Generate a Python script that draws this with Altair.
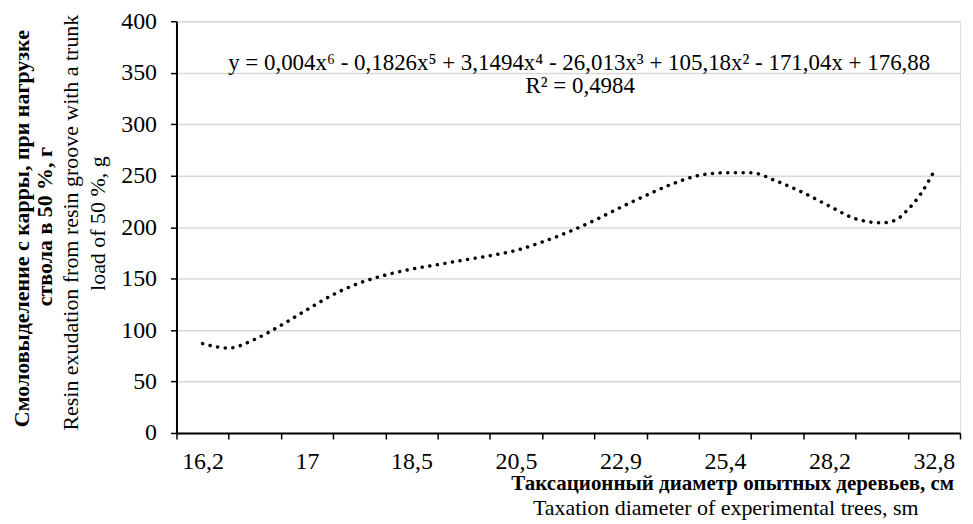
import altair as alt
import pandas as pd

# ---- data ----
curve_x = [1, 1.5, 2, 2.5, 3, 3.5, 4, 4.5, 5, 5.5, 6, 6.5, 7, 7.5, 8, 8.5, 9, 9.5,
           10, 10.5, 11, 11.5, 12, 12.5, 13, 13.5, 14, 14.25, 14.5, 14.75, 15]
curve_y = [86.8, 82.5, 91.0, 104.6, 119.8, 134.4, 145.6, 153.4, 159.2, 163.5, 168.0,
           172.2, 177.4, 185.5, 195.2, 206.5, 219.1, 231.1, 242.1, 250.2, 252.8, 252.8,
           244.4, 233.4, 220.4, 208.1, 204.2, 206.5, 216.9, 232.4, 254.0]

tick_positions = [1, 3, 5, 7, 9, 11, 13, 15]
tick_labels = ["16,2", "17", "18,5", "20,5", "22,9", "25,4", "28,2", "32,8"]
y_ticks = [0, 50, 100, 150, 200, 250, 300, 350, 400]

equation = "y = 0,004x⁶ - 0,1826x⁵ + 3,1494x⁴ - 26,013x³ + 105,18x² - 171,04x + 176,88"
r2_text = "R² = 0,4984"
y_title_ru = ["Смоловыделение с карры, при нагрузке", "ствола в 50 %, г"]
y_title_en = ["Resin exudation from resin groove with a trunk", "load of 50 %, g"]
x_title_ru = "Таксационный диаметр опытных деревьев, см"
x_title_en = "Taxation diameter of experimental trees, sm"

FONT = "Liberation Serif"
W, H = 786, 413

df = pd.DataFrame({"c": curve_x, "v": curve_y})

label_expr = "''"
for p, l in reversed(list(zip(tick_positions, tick_labels))):
    label_expr = f"datum.value == {p} ? '{l}' : ({label_expr})"

x_values = [0.5 + 0.5 * i for i in range(31)]

line = alt.Chart(df).mark_line(
    color="black", strokeWidth=3.5, strokeDash=[0.1, 7.6], strokeCap="round",
    interpolate="monotone"
).encode(
    x=alt.X("c:Q", scale=alt.Scale(domain=[0.5, 15.5], nice=False, zero=False),
            axis=alt.Axis(values=x_values, labelExpr=label_expr, grid=False,
                          domainColor="black", domainWidth=2, tickColor="black",
                          tickWidth=1.5, tickSize=6,
                          tickOpacity={"condition": {"test": "datum.value % 1 == 0", "value": 0}, "value": 1},
                          labelFont=FONT, labelFontSize=24, labelColor="black",
                          labelPadding=11, labelOverlap=False, labelFlush=False,
                          title=None)),
    y=alt.Y("v:Q", scale=alt.Scale(domain=[0, 400], nice=False),
            axis=alt.Axis(values=y_ticks, grid=True, gridColor="#d9d9d9", gridWidth=1.5,
                          domainColor="black", domainWidth=2, tickColor="black",
                          tickWidth=1.5, tickSize=6, labelFont=FONT, labelFontSize=24,
                          labelColor="black", labelPadding=14, title=None)),
)


def txt(s, x, y, size, bold=False, angle=0, align="center", baseline="alphabetic"):
    kw = dict(text=s, font=FONT, fontSize=size, color="black", align=align,
              baseline=baseline, fontWeight="bold" if bold else "normal")
    if angle:
        kw["angle"] = angle
    return alt.Chart(pd.DataFrame({"k": [0]})).mark_text(**kw).encode(
        x=alt.value(x), y=alt.value(y))


texts = [
    txt(equation, 404, 48.5, 23),
    txt(r2_text, 405, 71.5, 23),
    txt(y_title_ru[0], -148, 208, 22, bold=True, angle=270),
    txt(y_title_ru[1], -125, 206, 22, bold=True, angle=270),
    txt(y_title_en[0], -99, 202, 22, angle=270),
    txt(y_title_en[1], -72, 203, 22, angle=270),
    txt(x_title_ru, 558, 470.5, 21, bold=True),
    txt(x_title_en, 551, 495, 22),
]

chart = alt.layer(line, *texts).properties(
    width=W, height=H,
    autosize=alt.AutoSizeParams(type="none"),
    padding={"left": 169, "top": 12.5, "right": 5, "bottom": 90},
).configure_view(stroke=None).configure(background="white")

chart.save("out.html", embed_options={"renderer": "svg", "actions": False})
